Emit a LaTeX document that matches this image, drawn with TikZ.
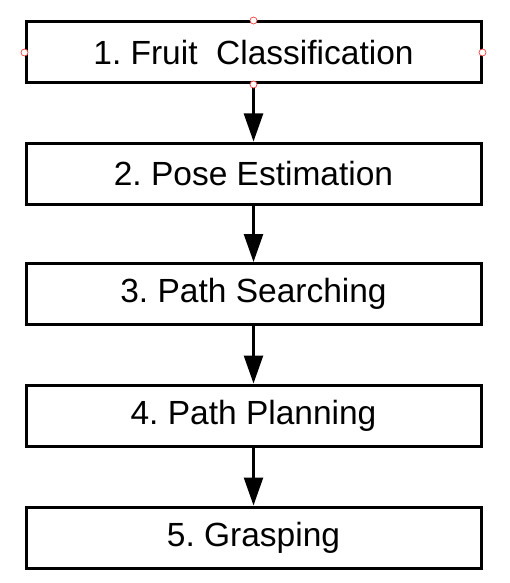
\documentclass[tikz,border=0pt]{standalone}
\usepackage{fontspec}
\setmainfont{Liberation Sans}
\usetikzlibrary{arrows.meta}
\frenchspacing
\begin{document}
\begin{tikzpicture}[x=1pt,y=-1pt,
  stepbox/.style={draw=black,line width=3pt,minimum width=455pt,minimum height=61pt,inner sep=0pt,font=\fontsize{33.5}{40}\selectfont},
  flow/.style={line width=2.5pt,-{Triangle[length=28pt,width=19pt]}},
  handle/.style={circle,draw=red!75!white,fill=white,line width=0.7pt,minimum size=7pt,inner sep=0pt}]
\useasboundingbox (0,0) rectangle (509,583);
\node[stepbox] (s1) at (253.5,52.5) {1. Fruit\ \ Classification};
\node[stepbox] (s2) at (253.5,173.5) {2. Pose Estimation};
\node[stepbox] (s3) at (253.5,294) {3. Path Searching};
\node[stepbox] (s4) at (253.5,415.5) {4. Path Planning};
\node[stepbox] (s5) at (253.5,537.5) {5. Grasping};
\draw[flow] (s1.south) -- (s2.north);
\draw[flow] (s2.south) -- (s3.north);
\draw[flow] (s3.south) -- (s4.north);
\draw[flow] (s4.south) -- (s5.north);
\node[handle] (h1) at (s1.north) {};
\node[handle] (h2) at (s1.west) {};
\node[handle] (h3) at (s1.east) {};
\node[handle] (h4) at (s1.south) {};
\end{tikzpicture}
\end{document}
